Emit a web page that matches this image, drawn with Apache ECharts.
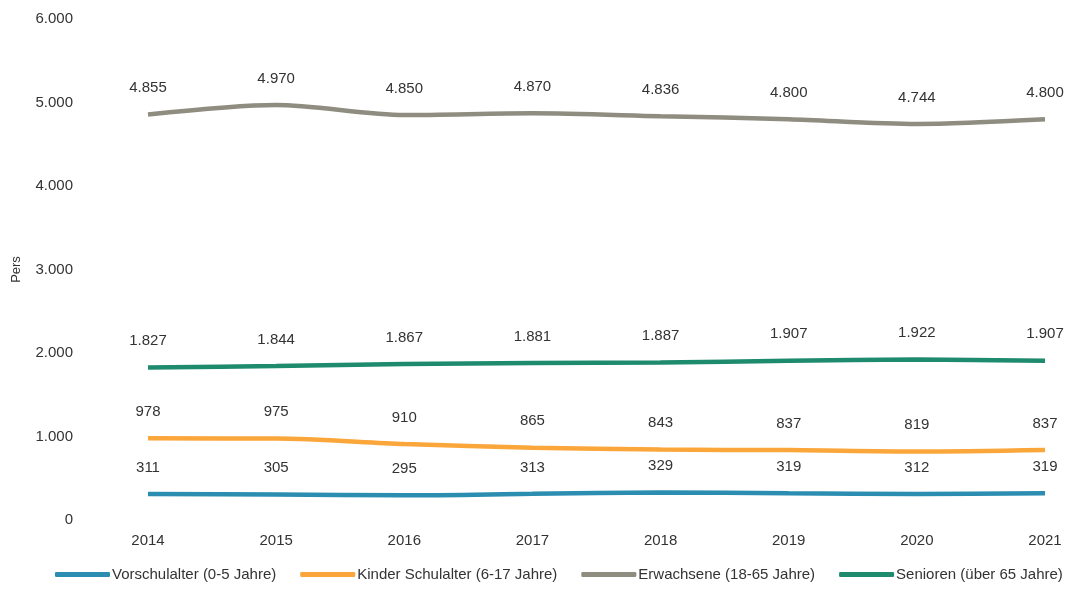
<!DOCTYPE html>
<html><head><meta charset="utf-8">
<script src="https://cdn.jsdelivr.net/npm/echarts@6/dist/echarts.min.js"></script>
<style>html,body{margin:0;padding:0;background:#fff}#c{width:1073px;height:589px}</style>
</head><body><div id="c"></div>
<script>
const years = ['2014','2015','2016','2017','2018','2019','2020','2021'];
const vorschulalter = [311,305,295,313,329,319,312,319];
const kinderSchulalter = [978,975,910,865,843,837,819,837];
const erwachsene = [4855,4970,4850,4870,4836,4800,4744,4800];
const senioren = [1827,1844,1867,1881,1887,1907,1922,1907];
const yTicks = [0,1000,2000,3000,4000,5000,6000];

const fmt = v => String(v).replace(/\B(?=(\d{3})+(?!\d))/g, '.');
const font = 'Liberation Sans, Arial, sans-serif';
function mk(name, data, color){
  return {name, type:'line', data, smooth:0.3, symbol:'circle', symbolSize:0.01, showSymbol:true,
    lineStyle:{width:4.5, color}, itemStyle:{color},
    label:{show:true, position:'top', distance:19, color:'#333', fontSize:15, fontFamily:font,
      formatter:p=>fmt(p.value)}};
}
const chart = echarts.init(document.getElementById('c'));
chart.setOption({
  animation:false,
  grid:{left:148, right:28, top:19, bottom:69},
  legend:{bottom:7, left:55, width:1018, padding:0, itemWidth:55, itemHeight:5, itemGap:24,
    textStyle:{fontSize:15, color:'#333', fontFamily:font, padding:[0,0,0,-3]},
    icon:'roundRect'},
  xAxis:{type:'category', data:years, boundaryGap:false,
    axisLine:{show:false}, axisTick:{show:false},
    axisLabel:{margin:13, fontSize:15, color:'#333', fontFamily:font}},
  yAxis:{type:'value', min:yTicks[0], max:yTicks[yTicks.length-1], interval:1000,
    name:'Pers', nameLocation:'middle', nameGap:125, nameRotate:90,
    nameTextStyle:{fontSize:13, color:'#333', fontFamily:font},
    splitLine:{show:false}, axisLine:{show:false}, axisTick:{show:false},
    axisLabel:{margin:75, fontSize:15, color:'#333', fontFamily:font, formatter:v=>fmt(v)}},
  series:[
    mk('Vorschulalter (0-5 Jahre)', vorschulalter, '#2b8db0'),
    mk('Kinder Schulalter (6-17 Jahre)', kinderSchulalter, '#fba63a'),
    mk('Erwachsene (18-65 Jahre)', erwachsene, '#8f8c80'),
    mk('Senioren (über 65 Jahre)', senioren, '#1e8a6e')
  ]
});
</script></body></html>
